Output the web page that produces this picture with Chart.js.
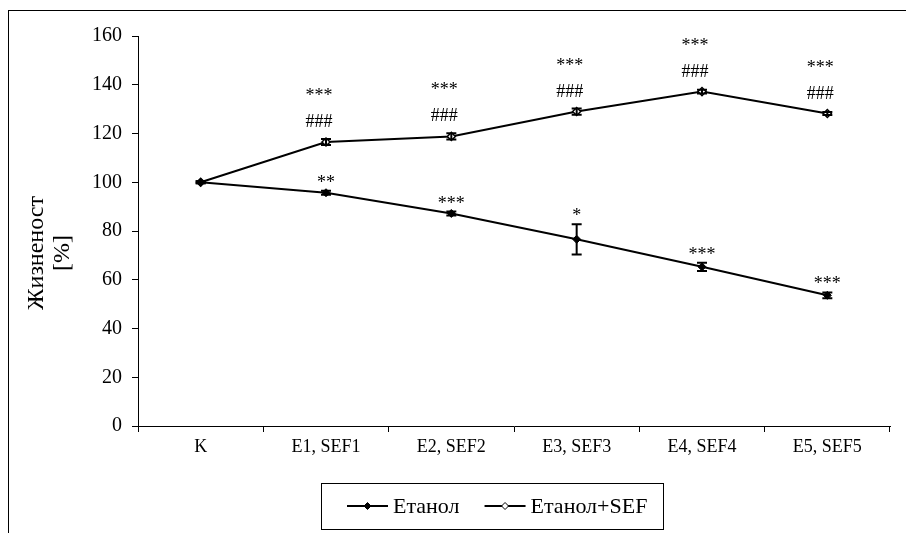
<!DOCTYPE html>
<html>
<head>
<meta charset="utf-8">
<script src="https://cdn.jsdelivr.net/npm/chart.js@4.4.1/dist/chart.umd.min.js"></script>
<style>
  html, body { margin: 0; padding: 0; background: #fff; }
  #wrap { position: relative; width: 906px; height: 533px; overflow: hidden; }
  #frame { position: absolute; left: 8px; top: 10px; width: 920px; height: 560px;
           border-left: 1px solid #000; border-top: 1px solid #000; pointer-events: none; }
  canvas { position: absolute; left: 0; top: 0; }
</style>
</head>
<body>
<div id="wrap">
  <canvas id="chart" width="906" height="533"></canvas>
  <div id="frame"></div>
</div>
<script>
// Groups on the x axis
const categories = ['K', 'E1, SEF1', 'E2, SEF2', 'E3, SEF3', 'E4, SEF4', 'E5, SEF5'];

// Viability [%], mean and error
const etanol    = [100, 95.7, 87.2, 76.6, 65.3, 53.6];
const etanolErr = [0.4, 0.8, 0.8, 6.2, 1.7, 1.2];
const sef       = [100, 116.5, 118.8, 129.0, 137.2, 128.2];
const sefErr    = [0.4, 1.2, 1.3, 1.3, 0.8, 0.6];

// Significance marks
const etanolStars = ['', '**', '***', '*', '***', '***'];
const sefStars    = ['', '***', '***', '***', '***', '***'];
const sefHashes   = ['', '###', '###', '###', '###', '###'];

// Axis
const yTicks = [0, 20, 40, 60, 80, 100, 120, 140, 160];

const seriesNames = ['Етанол', 'Етанол+SEF'];
const axisTitle = ['Жизненост', '[%]'];

const SERIF = '"Liberation Serif", "Times New Roman", serif';

// Vertical error bars with caps
const errorBars = {
  id: 'errorBars',
  afterDatasetsDraw(chart) {
    const ctx = chart.ctx;
    const y = chart.scales.y;
    const errs = [etanolErr, sefErr];
    ctx.save();
    ctx.strokeStyle = '#000';
    ctx.lineWidth = 2;
    chart.data.datasets.forEach((ds, di) => {
      const meta = chart.getDatasetMeta(di);
      meta.data.forEach((pt, i) => {
        const v = ds.data[i], e = errs[di][i];
        const top = y.getPixelForValue(v + e);
        const bot = y.getPixelForValue(v - e);
        ctx.beginPath();
        ctx.moveTo(pt.x, top); ctx.lineTo(pt.x, bot);
        ctx.moveTo(pt.x - 5, top); ctx.lineTo(pt.x + 5, top);
        ctx.moveTo(pt.x - 5, bot); ctx.lineTo(pt.x + 5, bot);
        ctx.stroke();
      });
    });
    ctx.restore();
  }
};

// Significance labels above the points
const sigLabels = {
  id: 'sigLabels',
  afterDatasetsDraw(chart) {
    const ctx = chart.ctx;
    const y = chart.scales.y;
    ctx.save();
    ctx.fillStyle = '#000';
    ctx.font = '18px ' + SERIF;
    ctx.textAlign = 'center';
    ctx.textBaseline = 'alphabetic';
    const m0 = chart.getDatasetMeta(0), m1 = chart.getDatasetMeta(1);
    categories.forEach((c, i) => {
      const p0 = m0.data[i];
      if (etanolStars[i]) {
        const ty = y.getPixelForValue(etanol[i] + etanolErr[i]);
        ctx.fillText(etanolStars[i], p0.x, ty - 3);
      }
      const p1 = m1.data[i];
      if (sefHashes[i]) ctx.fillText(sefHashes[i], p1.x - 7, p1.y - 15);
      if (sefStars[i]) ctx.fillText(sefStars[i], p1.x - 7, p1.y - 41);
    });
    ctx.restore();
  }
};

// Rotated two-line y axis title
const yTitle = {
  id: 'yTitle',
  afterDraw(chart) {
    const ctx = chart.ctx;
    const a = chart.chartArea;
    const cy = (a.top + a.bottom) / 2 + 22;
    ctx.save();
    ctx.fillStyle = '#000';
    ctx.font = '24px ' + SERIF;
    ctx.textAlign = 'center';
    ctx.textBaseline = 'middle';
    [37, 63].forEach((x, k) => {
      ctx.save();
      ctx.translate(x, cy);
      ctx.rotate(-Math.PI / 2);
      ctx.fillText(axisTitle[k], 0, 0);
      ctx.restore();
    });
    ctx.restore();
  }
};

// Boxed legend below the x axis
const boxLegend = {
  id: 'boxLegend',
  afterDraw(chart) {
    const ctx = chart.ctx;
    const left = 321, top = 483, h = 46, padL = 26, padR = 16;
    const lineLen = 41, gapText = 5, gapItem = 25;
    ctx.save();
    ctx.font = '22px ' + SERIF;
    const widths = seriesNames.map(s => ctx.measureText(s).width);
    let w = padL + padR;
    widths.forEach((tw, i) => { w += lineLen + gapText + tw + (i ? gapItem : 0); });
    ctx.strokeStyle = '#000';
    ctx.lineWidth = 1;
    ctx.strokeRect(left + 0.5, top + 0.5, Math.round(w), h);
    const cy = top + h / 2;
    let x = left + padL;
    chart.data.datasets.forEach((ds, i) => {
      ctx.strokeStyle = '#000';
      ctx.lineWidth = 2;
      ctx.beginPath(); ctx.moveTo(x, cy); ctx.lineTo(x + lineLen, cy); ctx.stroke();
      const mx = x + lineLen / 2, r = 3.5;
      ctx.beginPath();
      ctx.moveTo(mx, cy - r); ctx.lineTo(mx + r, cy); ctx.lineTo(mx, cy + r); ctx.lineTo(mx - r, cy); ctx.closePath();
      ctx.fillStyle = ds.pointBackgroundColor;
      ctx.fill();
      ctx.lineWidth = 1;
      ctx.stroke();
      ctx.fillStyle = '#000';
      ctx.textAlign = 'left';
      ctx.textBaseline = 'middle';
      ctx.fillText(seriesNames[i], x + lineLen + gapText, cy + 1);
      x += lineLen + gapText + widths[i] + gapItem;
    });
    ctx.restore();
  }
};

new Chart(document.getElementById('chart'), {
  type: 'line',
  data: {
    labels: categories,
    datasets: [
      {
        label: seriesNames[0],
        data: etanol,
        borderColor: '#000',
        borderWidth: 2,
        tension: 0,
        pointStyle: 'rectRot',
        pointRadius: 4,
        pointBackgroundColor: '#000',
        pointBorderColor: '#000',
        pointBorderWidth: 1
      },
      {
        label: seriesNames[1],
        data: sef,
        borderColor: '#000',
        borderWidth: 2,
        tension: 0,
        pointStyle: 'rectRot',
        pointRadius: 4,
        pointBackgroundColor: '#fff',
        pointBorderColor: '#000',
        pointBorderWidth: 1.5
      }
    ]
  },
  options: {
    responsive: false,
    animation: false,
    devicePixelRatio: 1,
    layout: { padding: { left: 0, top: 36, right: 16, bottom: 0 } },
    plugins: {
      legend: { display: false },
      tooltip: { enabled: false }
    },
    scales: {
      x: {
        type: 'category',
        offset: true,
        afterFit(s) { s.height = 107; },
        grid: { display: true, offset: true, drawOnChartArea: false, tickLength: 6, color: '#000', lineWidth: 1 },
        border: { display: true, color: '#000', width: 1 },
        ticks: { color: '#000', font: { family: SERIF, size: 18 }, padding: 4, maxRotation: 0, autoSkip: false }
      },
      y: {
        min: yTicks[0],
        max: yTicks[yTicks.length - 1],
        afterFit(s) { s.width = 138; },
        afterBuildTicks(s) { s.ticks = yTicks.map(v => ({ value: v })); },
        grid: { display: true, drawOnChartArea: false, tickLength: 6, color: '#000', lineWidth: 1 },
        border: { display: true, color: '#000', width: 1 },
        ticks: { color: '#000', font: { family: SERIF, size: 20 }, padding: 10 }
      }
    }
  },
  plugins: [errorBars, sigLabels, yTitle, boxLegend]
});
</script>
</body>
</html>
